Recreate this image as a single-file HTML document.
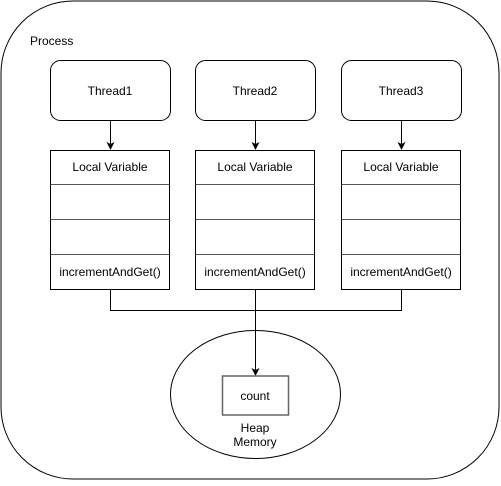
<!DOCTYPE html>
<html><head><style>body{margin:0;background:#fff}</style></head><body>
<svg width="501" height="481" xmlns="http://www.w3.org/2000/svg" font-family="Liberation Sans, sans-serif" font-size="12">
<defs><marker id="a" markerWidth="8" markerHeight="8" refX="7" refY="4" orient="auto" markerUnits="userSpaceOnUse"><path d="M0,0 L8,4 L0,8 L2,4 z" fill="#000"/></marker></defs>
<rect x="1" y="1" width="498" height="478" rx="72" fill="#fff" stroke="#000"/>
<text x="30" y="45">Process</text>
<g stroke="#000" fill="#fff">
<rect x="50.5" y="60.5" width="120" height="60" rx="10"/>
<rect x="195.5" y="60.5" width="120" height="60" rx="10"/>
<rect x="341.5" y="60.5" width="120" height="60" rx="10"/>
</g>
<g text-anchor="middle">
<text x="110" y="95">Thread1</text><text x="255" y="95">Thread2</text><text x="401" y="95">Thread3</text>
</g>
<g stroke="#000" fill="none">
<line x1="110.5" y1="121" x2="110.5" y2="149" marker-end="url(#a)"/>
<line x1="255.5" y1="121" x2="255.5" y2="149" marker-end="url(#a)"/>
<line x1="401.5" y1="121" x2="401.5" y2="149" marker-end="url(#a)"/>
</g>
<g id="lv">
<rect x="50.5" y="150.5" width="119" height="139" fill="#fff" stroke="#000"/>
<g stroke="#555"><line x1="50.5" y1="184.5" x2="169.5" y2="184.5"/><line x1="50.5" y1="219.5" x2="169.5" y2="219.5"/><line x1="50.5" y1="254.5" x2="169.5" y2="254.5"/></g>
<text x="110" y="171" text-anchor="middle">Local Variable</text>
<text x="110" y="276" text-anchor="middle">incrementAndGet()</text>
</g>
<use href="#lv" x="145"/>
<use href="#lv" x="291"/>
<g stroke="#000" fill="none">
<path d="M110.5 290 V310.5 H401.5 V290"/>
<ellipse cx="255.5" cy="394.5" rx="85" ry="64" fill="#fff"/>
<line x1="255.5" y1="290" x2="255.5" y2="375" marker-end="url(#a)"/>
</g>
<rect x="222.5" y="376" width="66" height="39" fill="#fff" stroke="#666" stroke-width="1.5"/>
<g text-anchor="middle">
<text x="255" y="400">count</text>
<text x="255" y="432">Heap</text>
<text x="255" y="446">Memory</text>
</g>
</svg>
</body></html>
